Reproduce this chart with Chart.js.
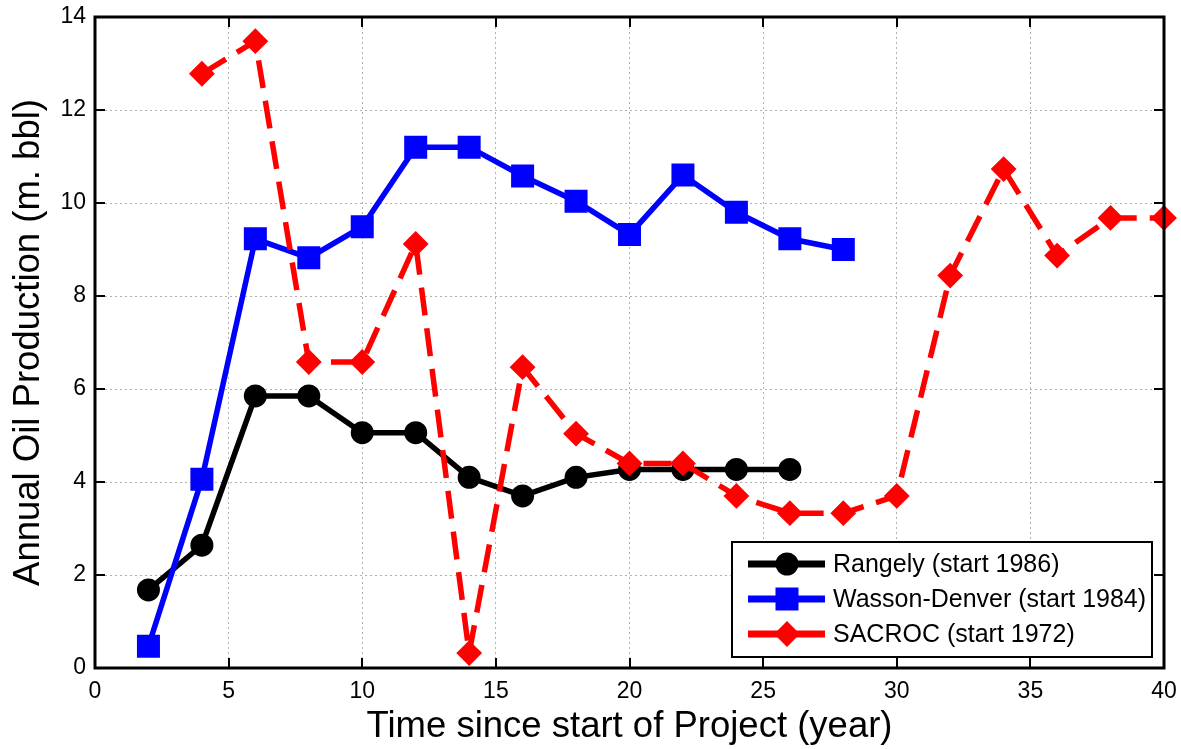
<!DOCTYPE html>
<html><head><meta charset="utf-8">
<script src="https://cdn.jsdelivr.net/npm/chart.js@4.4.1/dist/chart.umd.min.js"></script>
<style>html,body{margin:0;padding:0;background:#fff;}#wrap{width:1181px;height:749px;}</style>
</head><body><div id="wrap"><canvas id="c" width="1181" height="749"></canvas></div>
<script>
const rangelyYears = [2,4,6,8,10,12,14,16,18,20,22,24,26];
const rangelyValues = [1.68,2.64,5.85,5.85,5.06,5.06,4.10,3.70,4.10,4.27,4.27,4.27,4.27];
const wassonYears = [2,4,6,8,10,12,14,16,18,20,22,24,26,28];
const wassonValues = [0.47,4.06,9.23,8.82,9.49,11.20,11.20,10.58,10.04,9.32,10.60,9.80,9.23,9.00];
const sacrocYears = [4,6,8,10,12,14,16,18,20,22,24,26,28,30,32,34,36,38,40];
const sacrocValues = [12.78,13.48,6.58,6.58,9.12,0.32,6.47,5.04,4.40,4.40,3.70,3.33,3.33,3.70,8.44,10.73,8.87,9.68,9.68];
const seriesLabels = ['Rangely (start 1986)','Wasson-Denver (start 1984)','SACROC (start 1972)'];
const xTickValues = [0,5,10,15,20,25,30,35,40];
const yTickValues = [0,2,4,6,8,10,12,14];
const xTitle = 'Time since start of Project (year)';
const yTitle = 'Annual Oil Production (m. bbl)';

const FONT = '"Liberation Sans", Arial, Helvetica, sans-serif';
const pts = (xs, ys) => xs.map((x, i) => ({x, y: ys[i]}));

const styles = [
  {color:'#000000', pointStyle:'circle', radius:10, bw:3, dash:[]},
  {color:'#0000ff', pointStyle:'rect', radius:14.5, bw:2.5, dash:[]},
  {color:'#ff0000', pointStyle:'rectRot', radius:11.5, bw:2, dash:[28,13]}
];

const boxPlugin = {
  id:'boxTicks',
  afterDatasetsDraw(chart){
    const ctx = chart.ctx, ca = chart.chartArea;
    const xs = chart.scales.x, ys = chart.scales.y;
    ctx.save();
    ctx.strokeStyle = '#000'; ctx.lineWidth = 2; ctx.setLineDash([]);
    ctx.beginPath();
    xTickValues.forEach(v => {
      const px = Math.round(xs.getPixelForValue(v));
      ctx.moveTo(px, ca.bottom); ctx.lineTo(px, ca.bottom - 10);
      ctx.moveTo(px, ca.top); ctx.lineTo(px, ca.top + 10);
    });
    yTickValues.forEach(v => {
      const py = Math.round(ys.getPixelForValue(v));
      ctx.moveTo(ca.left, py); ctx.lineTo(ca.left + 10, py);
      ctx.moveTo(ca.right, py); ctx.lineTo(ca.right - 10, py);
    });
    ctx.stroke();
    ctx.lineWidth = 3;
    ctx.strokeRect(ca.left, ca.top, ca.right - ca.left, ca.bottom - ca.top);
    ctx.restore();
  },
  afterDraw(chart){
    const ctx = chart.ctx, ca = chart.chartArea;
    const bx = ca.right - 432, by = ca.bottom - 126, bw = 420, bh = 115;
    ctx.save();
    ctx.fillStyle = '#fff';
    ctx.fillRect(bx, by, bw, bh);
    ctx.strokeStyle = '#000'; ctx.lineWidth = 2;
    ctx.strokeRect(bx, by, bw, bh);
    [0,1,2].forEach((di, i) => {
      const s = styles[di];
      const y = by + 22 + i * 35;
      ctx.setLineDash([]);
      ctx.strokeStyle = s.color; ctx.lineWidth = 7;
      ctx.beginPath(); ctx.moveTo(bx + 16, y); ctx.lineTo(bx + 93, y); ctx.stroke();
      ctx.fillStyle = s.color; ctx.strokeStyle = s.color; ctx.lineWidth = s.bw;
      Chart.helpers.drawPoint(ctx, {pointStyle:s.pointStyle, radius:s.radius, borderWidth:s.bw, rotation:0}, bx + 55, y);
      ctx.fillStyle = '#000';
      ctx.font = '25px ' + FONT;
      ctx.textBaseline = 'middle'; ctx.textAlign = 'left';
      ctx.fillText(chart.data.datasets[di].label, bx + 101, y + 1);
    });
    ctx.restore();
  }
};

const datasets = [
  {label:seriesLabels[0], data:pts(rangelyYears, rangelyValues), order:2},
  {label:seriesLabels[1], data:pts(wassonYears, wassonValues), order:1},
  {label:seriesLabels[2], data:pts(sacrocYears, sacrocValues), order:0}
].map((d, i) => Object.assign(d, {
  borderColor: styles[i].color,
  backgroundColor: styles[i].color,
  borderWidth: 5.5,
  borderDash: styles[i].dash,
  borderCapStyle: 'butt',
  borderJoinStyle: 'miter',
  pointStyle: styles[i].pointStyle,
  pointRadius: styles[i].radius,
  pointBorderWidth: styles[i].bw,
  pointBorderColor: styles[i].color,
  pointBackgroundColor: styles[i].color,
  tension: 0,
  clip: false,
  fill: false
}));

new Chart(document.getElementById('c'), {
  type:'line',
  data:{datasets},
  options:{
    responsive:false, animation:false, devicePixelRatio:1,
    layout:{padding:{top:15, right:16, left:0, bottom:0}},
    plugins:{legend:{display:false}, tooltip:{enabled:false}},
    scales:{
      x:{
        type:'linear', min:0, max:40,
        afterBuildTicks(s){ s.ticks = xTickValues.map(v => ({value:v})); },
        afterFit(s){ s.height = 81; s.paddingLeft = 0; s.paddingRight = 0; },
        grid:{color:'#b0b0b0', lineWidth:1, drawTicks:false},
        border:{display:false, dash:[2,3]},
        ticks:{color:'#000', font:{family:FONT, size:23}, padding:10, maxRotation:0},
        title:{display:true, text:xTitle, color:'#000', font:{family:FONT, size:36.5}, padding:{top:0,bottom:0}}
      },
      y:{
        type:'linear', min:0, max:14,
        afterBuildTicks(s){ s.ticks = yTickValues.map(v => ({value:v})); },
        afterFit(s){ s.width = 95; s.paddingTop = 0; s.paddingBottom = 0; },
        grid:{color:'#b0b0b0', lineWidth:1, drawTicks:false},
        border:{display:false, dash:[2,3]},
        ticks:{color:'#000', font:{family:FONT, size:23}, padding:9},
        title:{display:true, text:yTitle, color:'#000', font:{family:FONT, size:36.5}, padding:{top:7,bottom:0}}
      }
    }
  },
  plugins:[boxPlugin]
});
</script></body></html>
